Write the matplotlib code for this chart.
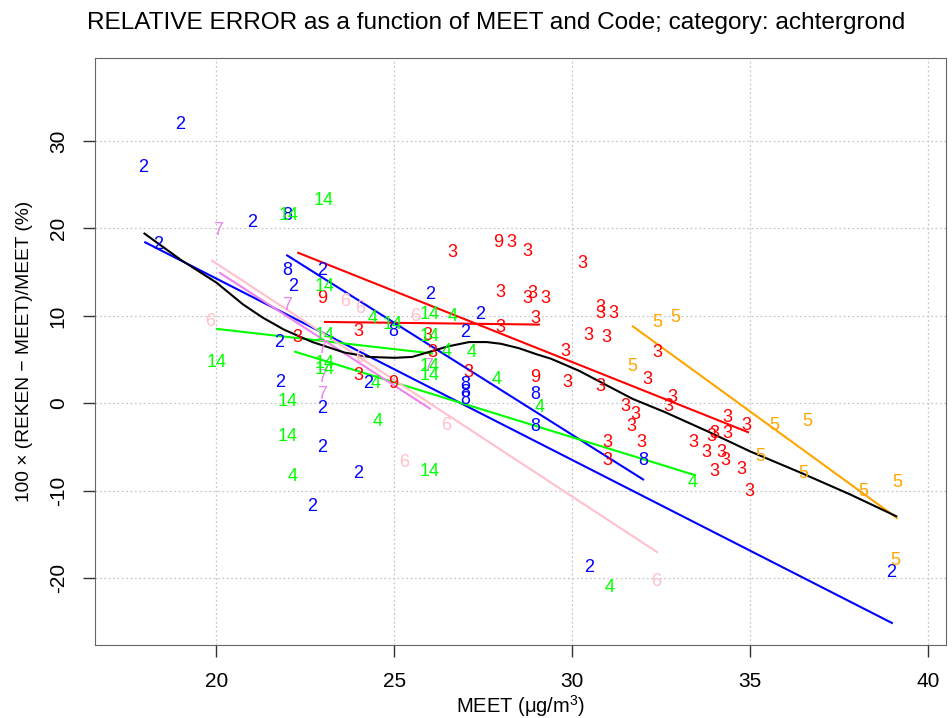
import matplotlib
matplotlib.use("Agg")
import matplotlib.pyplot as plt

plt.rcParams["font.family"] = ["Liberation Sans", "DejaVu Sans"]
plt.rcParams["mathtext.fontset"] = "custom"
plt.rcParams["mathtext.rm"] = "Liberation Sans"
plt.rcParams["mathtext.default"] = "regular"
plt.rcParams["axes.unicode_minus"] = False

# points per Code: MEET and relative error (%)
x2 = [18.99, 17.94, 18.36, 21.0, 22.97, 22.15, 26.0, 27.41, 26.98, 21.76, 21.79, 22.97, 22.97, 22.69, 24.26, 23.98, 30.47, 38.95]
y2 = [31.9, 27.0, 18.2, 20.7, 15.2, 13.3, 12.4, 10.1, 8.1, 7.0, 2.4, -0.6, -5.0, -11.8, 2.3, -8.0, -18.8, -19.3]

x3 = [22.27, 23.98, 23.98, 25.94, 26.08, 26.64, 28.3, 28.75, 27.97, 28.87, 28.75, 29.23, 28.95, 27.97, 27.07,
      30.27, 30.78, 30.78, 31.14, 30.44, 30.97, 29.8, 29.85, 30.78, 32.38, 32.1, 32.8, 32.69, 31.48, 31.76,
      31.67, 30.99, 30.99, 31.95, 33.39, 33.78, 33.9, 33.98, 34.2, 34.29, 34.37, 34.37, 34.9, 34.0, 34.76, 34.98]
y3 = [7.5, 8.2, 3.2, 7.8, 5.8, 17.2, 18.4, 17.3, 12.7, 12.6, 12.0, 12.0, 9.7, 8.7, 3.5,
      16.0, 10.9, 10.3, 10.3, 7.8, 7.5, 5.9, 2.4, 1.9, 5.8, 2.7, 0.7, -0.4, -0.4, -1.3,
      -2.7, -4.5, -6.5, -4.5, -4.5, -5.6, -3.8, -3.4, -5.6, -6.5, -1.6, -3.4, -2.5, -7.8, -7.6, -10.1]

x4 = [24.38, 26.65, 24.47, 24.54, 27.18, 27.88, 29.09, 33.39, 31.06, 22.15, 26.48]
y4 = [9.7, 9.9, 2.3, -2.1, 5.8, 2.7, -0.5, -9.1, -21.0, -8.4, 5.9]

x5 = [32.38, 32.89, 31.68, 35.69, 36.59, 35.27, 36.48, 38.17, 39.12, 39.07]
y5 = [9.2, 9.8, 4.2, -2.5, -2.1, -6.1, -8.0, -10.1, -9.1, -18.0]

x6 = [19.82, 23.61, 24.03, 25.58, 24.03, 26.47, 25.27, 32.35]
y6 = [9.3, 11.6, 10.8, 9.9, 5.2, -2.5, -6.8, -20.4]

x7 = [20.05, 21.99, 22.97, 22.97, 22.97, 25.94]
y7 = [19.8, 11.2, 6.3, 3.0, 1.0, 4.2]

x8 = [21.99, 21.99, 24.96, 26.98, 26.98, 26.98, 28.95, 28.95, 31.99]
y8 = [21.5, 15.2, 8.2, 2.1, 1.2, 0.4, 1.0, -2.7, -6.5]

x9 = [22.97, 24.96, 27.92, 28.95]
y9 = [12.0, 2.3, 18.4, 2.9]

x14 = [23.0, 22.04, 23.05, 24.96, 26.0, 26.0, 23.05, 23.05, 23.05, 20.02, 21.99, 21.99, 26.0, 26.0, 26.0]
y14 = [23.2, 21.5, 13.3, 9.0, 10.1, 7.6, 7.8, 4.5, 3.9, 4.7, 0.2, -3.8, 4.2, 3.2, -7.8]

# fitted line per Code: start and end
fit_codes = ["3", "9", "2", "8", "14", "4", "6", "7", "5"]
fit_x0 = [22.3, 23.05, 18.0, 21.99, 20.02, 22.21, 19.88, 20.1, 31.7]
fit_x1 = [34.94, 29.06, 38.98, 31.99, 26.06, 33.44, 32.38, 26.0, 39.12]
fit_y0 = [17.2, 9.3, 18.4, 16.9, 8.5, 5.9, 16.3, 14.9, 8.8]
fit_y1 = [-3.3, 9.0, -25.1, -8.7, 5.7, -8.2, -17.0, -0.6, -13.1]

# overall smooth
smooth_x = [17.98, 19.0, 20.0, 20.75, 21.3, 21.91, 22.7, 23.6, 24.3, 25.0, 25.5, 26.0, 26.5, 27.1, 27.6,
            28.0, 28.5, 29.0, 29.4, 30.2, 30.9, 31.7, 32.6, 33.8, 35.0, 36.4, 37.8, 39.1]
smooth_y = [19.4, 16.4, 13.8, 11.3, 9.8, 8.4, 7.0, 5.8, 5.3, 5.2, 5.3, 5.9, 6.5, 7.0, 7.0,
            6.8, 6.3, 5.6, 5.1, 3.7, 2.2, 0.5, -1.0, -3.2, -5.5, -7.9, -10.4, -12.9]

colors = {"2": "#0000FF", "3": "#FF0000", "4": "#00FF00", "5": "#FFA500", "6": "#FFC0CB",
          "7": "#EE82EE", "8": "#0000FF", "9": "#FF0000", "14": "#00FF00"}
groups = [("2", x2, y2), ("3", x3, y3), ("4", x4, y4), ("5", x5, y5), ("6", x6, y6),
          ("7", x7, y7), ("8", x8, y8), ("9", x9, y9), ("14", x14, y14)]

fig = plt.figure(figsize=(9.53, 7.18), dpi=100)
ax = fig.add_axes([95 / 953, 73 / 718, 851 / 953, 586.7 / 718])

for code, xs, ys in groups:
    for x, y in zip(xs, ys):
        ax.text(x, y, code, color=colors[code], fontsize=13, ha="center", va="center")

for code, a, b, c, d in zip(fit_codes, fit_x0, fit_x1, fit_y0, fit_y1):
    ax.plot([a, b], [c, d], color=colors[code], lw=1.5)

ax.plot(smooth_x, smooth_y, color="black", lw=1.5)

ax.set_xlim(16.59, 40.5)
ax.set_ylim(-27.62, 39.43)
ax.set_xticks([20, 25, 30, 35, 40])
ax.set_yticks([-20, -10, 0, 10, 20, 30])
ax.grid(True, color="#c8c8c8", linestyle=(0, (1.5, 2)), lw=0.9)
ax.set_axisbelow(True)
for s in ax.spines.values():
    s.set_color("#666666")
ax.tick_params(direction="out", length=8.6, width=1, color="#333333", labelsize=15, pad=11)
for lab in ax.get_yticklabels():
    lab.set_rotation(90)
    lab.set_va("center")

fig.text(496 / 953, 1 - 29.3 / 718, "RELATIVE ERROR as a function of MEET and Code; category: achtergrond",
         ha="center", va="baseline", fontsize=17.6)
fig.text(520.5 / 953, 1 - 713 / 718, "MEET (μg/m$^{3}$)", ha="center", va="baseline", fontsize=14.5)
fig.text(25 / 953, 1 - 351.7 / 718, "100 × (REKEN − MEET)/MEET (%)", rotation=90,
         ha="center", va="center", fontsize=13.8)

fig.savefig("out.png", dpi=100)
